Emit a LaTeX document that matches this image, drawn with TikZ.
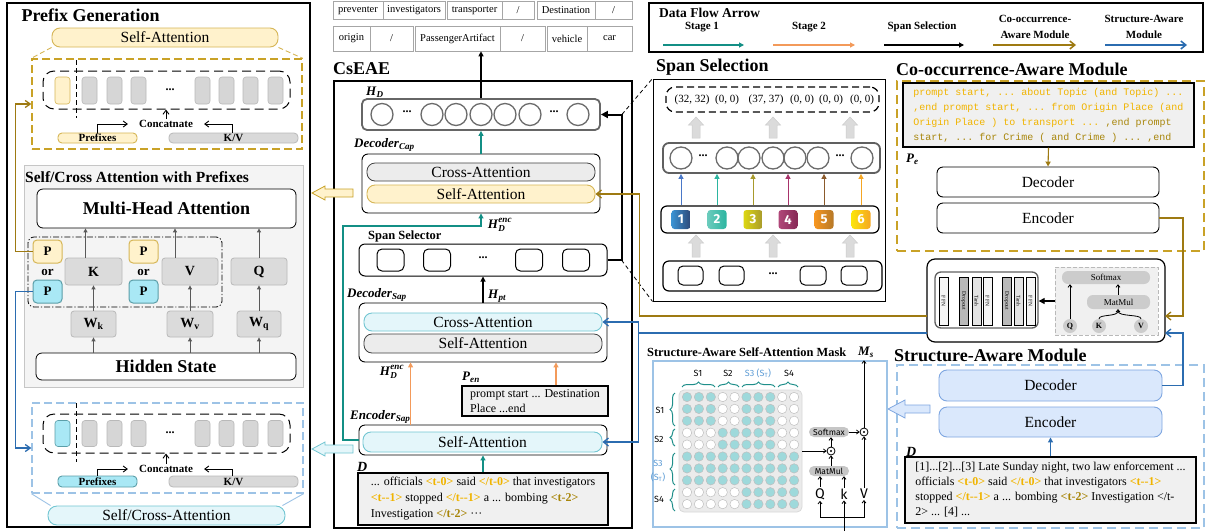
\documentclass[tikz,border=0pt]{standalone}
\usepackage{amsmath}
\usepackage{fontspec}
\setmainfont{Liberation Serif}
\setmonofont{Liberation Mono}
\newfontfamily\dinfont{Fira Sans}
\usetikzlibrary{arrows.meta,calc,decorations.pathreplacing}
\definecolor{cgold}{HTML}{9E7A12}
\definecolor{dgold}{HTML}{C9A227}
\definecolor{yfill}{HTML}{FFF2CC}
\definecolor{yline}{HTML}{D6B656}
\definecolor{cfill}{HTML}{E4F6FA}
\definecolor{cline}{HTML}{72C6D2}
\definecolor{tokc}{HTML}{A9E8F5}
\definecolor{tokg}{HTML}{D6D6D6}
\definecolor{cteal}{HTML}{138F85}
\definecolor{corange}{HTML}{F39A5A}
\definecolor{cblue}{HTML}{2B6CB0}
\definecolor{lblue}{HTML}{9DC3E6}
\definecolor{sfill}{HTML}{DAE8FC}
\definecolor{sline}{HTML}{7EA6E0}
\definecolor{tagy}{HTML}{F0B400}
\definecolor{tagd}{HTML}{A8860B}
\definecolor{mteal}{HTML}{9ED9DB}
\definecolor{brteal}{HTML}{1F8F8A}
\definecolor{sblue}{HTML}{5B9BD5}
\definecolor{ca1}{HTML}{4A78C8}
\definecolor{ca2}{HTML}{2BB5A0}
\definecolor{ca3}{HTML}{A89A2C}
\definecolor{ca4}{HTML}{A8336B}
\definecolor{ca5}{HTML}{8B5A2B}
\definecolor{ca6}{HTML}{F5A623}
\newcommand\myfs[1]{\fontsize{#1}{#1}\selectfont}
\newcommand\bi[1]{\textbf{\textit{#1}}}
\newcommand\tga[1]{\textcolor{tagy}{\textbf{#1}}}
\newcommand\tgb[1]{\textcolor{tagd}{\textbf{#1}}}
\newcommand\B[7]{\node[inner sep=0pt,minimum width={(#5)-(#3)},minimum height={(#6)-(#4)},#2] (#1) at ({((#3)+(#5))/2},{((#4)+(#6))/2}) {#7};}
\newcommand\blk[3]{\filldraw[fill=gray!28,draw=gray!40,line width=0.5pt] ({#1-4},{#3}) -- ({#1-4},{#2+8}) -- ({#1-7.5},{#2+8}) -- ({#1},{#2}) -- ({#1+7.5},{#2+8}) -- ({#1+4},{#2+8}) -- ({#1+4},{#3}) -- cycle;}
\begin{document}
\begin{tikzpicture}[x=1pt,y=-1pt,font=\myfs{12},
  tok/.style={draw=gray!55,fill=tokg,rounded corners=3pt,line width=0.6pt,minimum width=15pt,minimum height=27pt,inner sep=0pt},
  arr/.style={-{Triangle[length=5pt,width=5pt]},line width=1.1pt},
  barb/.style={-{Straight Barb[length=4pt,width=6pt]},line width=0.9pt},
  garr/.style={-{Triangle[length=4pt,width=4pt]},line width=1pt,draw=gray!70!black},
  mar/.style={-{Straight Barb[length=2.5pt,width=4pt]},line width=0.8pt},
  sa/.style={draw=yline,fill=yfill,rounded corners=8pt,line width=0.9pt,font=\myfs{15.5}},
  ca/.style={draw=cline,fill=cfill,rounded corners=8pt,line width=0.9pt,font=\myfs{15.5}},
  ga/.style={draw=black!75,fill=gray!15,rounded corners=8pt,line width=0.8pt,font=\myfs{15.5}},
  modb/.style={draw,fill=white,rounded corners=6pt,line width=0.9pt},
  txb/.style={draw,fill=gray!12,line width=1.4pt},
  py/.style={draw=yline,fill=yfill,rounded corners=4pt,line width=1pt,font=\bfseries\myfs{13}},
  pb/.style={draw=cline!80!black,fill=tokc,rounded corners=4pt,line width=1pt,font=\bfseries\myfs{13}},
  gbx/.style={draw=gray!55,fill=gray!28,rounded corners=3pt,line width=0.8pt,font=\bfseries\myfs{14}},
  tc/.style={draw=gray!70,line width=0.6pt,font=\myfs{10.5}},
  hcirc/.style={circle,draw=gray!85!black,line width=1.3pt,minimum size=22pt,inner sep=0pt},
  ssb/.style={draw,rounded corners=5pt,line width=1pt,minimum width=27pt,minimum height=22pt,inner sep=0pt},
  badge/.style={rounded corners=3pt,minimum size=19pt,inner sep=0pt,text=white,font=\dinfont\bfseries\myfs{13}},
  mlab/.style={font=\dinfont\myfs{9}},
  mpill/.style={fill=gray!45,rounded corners=5pt,inner sep=0pt,font=\dinfont\myfs{8.5}}
]
\useasboundingbox (0,0) rectangle (1207,531);
\fill[white] (0,0) rectangle (1207,531);

%================ PREFIX GENERATION =================
\B{pgframe}{draw,line width=1.3pt}{7}{3}{310}{527}{}
\node[anchor=west,font=\bfseries\myfs{18}] (pgtitle) at (18,15) {Prefix Generation};
\B{pgsa}{sa}{52}{28}{278}{47}{Self-Attention}
\B{pgbox1}{draw=dgold,dash pattern=on 8pt off 4pt,line width=1.4pt}{32}{59}{302}{149}{}
\draw[yline,line width=0.9pt,dash pattern=on 5pt off 3pt] (pgsa.south west) -- (pgbox1.north west) (pgsa.south east) -- (pgbox1.north east);
\B{seq1}{draw,dash pattern=on 9pt off 5pt,rounded corners=11pt,line width=1pt}{43}{71}{290}{109}{}
\draw[line width=1pt,dash pattern=on 5pt off 3pt] (76,60) -- (76,118);
\node[tok,fill=yfill,draw=yline] (t1a) at (62.5,90.5) {};
\foreach \x [count=\i] in {89.5,114.5,138.5,202.5,226.5,250.5,275.5} \node[tok] (t1\i) at (\x,90.5) {};
\node[font=\bfseries\myfs{12}] (d1) at (170,90) {...};
\node[font=\bfseries\myfs{11},inner sep=1pt] (cc1) at (166,124) {Concatnate};
\draw[barb] (cc1.north) -- (seq1.south -| cc1.north);
\B{pf1}{draw=yline,fill=yfill,rounded corners=4pt,line width=0.9pt,font=\bfseries\myfs{11}}{58}{133}{137}{143}{Prefixes}
\B{kv1}{draw=gray!55,fill=gray!30,rounded corners=4pt,line width=0.8pt,font=\bfseries\myfs{11}}{169}{133}{298}{143}{K/V}
\draw[barb] ($(pf1.north west)+(40,0)$) |- ([xshift=-10pt]cc1.west);
\draw[barb] ($(kv1.north west)+(64,0)$) |- ([xshift=10pt]cc1.east);

% Self/Cross attention with prefixes
\B{scp}{draw=gray!45,fill=gray!9,line width=1pt}{24}{165}{303}{387}{}
\node[anchor=west,font=\bfseries\myfs{15.5},inner sep=0pt] (sctitle) at (25,177) {Self/Cross Attention with Prefixes};
\B{mha}{draw,fill=white,rounded corners=6pt,line width=0.8pt,font=\bfseries\myfs{18}}{37}{189}{296}{228}{Multi-Head Attention}
\B{ddb}{draw,dash pattern=on 6pt off 2pt on 1.2pt off 2pt,rounded corners=6pt,line width=0.8pt}{28}{237}{222}{307}{}
\B{py1}{py}{33}{240}{62}{263}{P}
\B{pb1}{pb}{33}{280}{62}{303}{P}
\node[font=\bfseries\myfs{13}] (or1) at (47.5,272) {or};
\B{kk}{gbx}{65}{258}{122}{285}{K}
\B{py2}{py}{129}{240}{158}{263}{P}
\B{pb2}{pb}{129}{280}{158}{303}{P}
\node[font=\bfseries\myfs{13}] (or2) at (143.5,272) {or};
\B{vv}{gbx}{162}{258}{218}{285}{V}
\B{qq}{gbx}{231}{258}{287}{285}{Q}
\B{wk}{gbx}{71}{311}{116}{337}{W\textsubscript{k}}
\B{wv}{gbx}{167}{311}{213}{337}{W\textsubscript{v}}
\B{wq}{gbx}{237}{311}{281}{337}{W\textsubscript{q}}
\B{hid}{draw,fill=white,rounded corners=6pt,line width=0.8pt,font=\bfseries\myfs{18}}{36}{353}{296}{380}{Hidden State}
\draw[garr] (hid.north -| wk) -- (wk.south);
\draw[garr] (hid.north -| wv) -- (wv.south);
\draw[garr] (hid.north -| wq) -- (wq.south);
\draw[garr] (wk.north) -- (kk.south -| wk.north);
\draw[garr] (wv.north) -- (vv.south -| wv.north);
\draw[garr] (wq.north) -- (qq.south -| wq.north);
\coordinate (ka) at ($(kk.north)+(-8,0)$);
\coordinate (va) at ($(vv.north)+(-15,0)$);
\draw[garr] (ka) -- (ka |- mha.south);
\draw[garr] (va) -- (va |- mha.south);
\draw[garr] (qq.north) -- (qq.north |- mha.south);

% bottom prefix
\B{pgbox2}{draw=lblue,dash pattern=on 8pt off 4pt,line width=1.3pt}{32}{403}{303}{493}{}
\B{seq2}{draw,dash pattern=on 9pt off 5pt,rounded corners=11pt,line width=1pt}{43}{414}{290}{453}{}
\draw[line width=1pt,dash pattern=on 5pt off 3pt] (76,403) -- (76,462);
\node[tok,fill=tokc,draw=cline!80!black,minimum height=26pt] (t2a) at (62.5,433.5) {};
\foreach \x [count=\i] in {89.5,114.5,138.5,202.5,226.5,250.5,275.5} \node[tok,minimum height=26pt] (t2\i) at (\x,433.5) {};
\node[font=\bfseries\myfs{12}] (d2) at (170,433) {...};
\node[font=\bfseries\myfs{11},inner sep=1pt] (cc2) at (166,469) {Concatnate};
\draw[barb] (cc2.north) -- (seq2.south -| cc2.north);
\B{pf2}{draw=cline!80!black,fill=tokc,rounded corners=4pt,line width=0.9pt,font=\bfseries\myfs{11}}{58}{476}{137}{487}{Prefixes}
\B{kv2}{draw=gray!55,fill=gray!30,rounded corners=4pt,line width=0.8pt,font=\bfseries\myfs{11}}{169}{476}{298}{487}{K/V}
\draw[barb] ($(pf2.north west)+(40,0)$) |- ([xshift=-10pt]cc2.west);
\draw[barb] ($(kv2.north west)+(64,0)$) |- ([xshift=10pt]cc2.east);
\B{pgsca}{ca,rounded corners=9pt}{48}{506}{285}{525}{Self/Cross-Attention}
\draw[lblue,line width=0.9pt] (pgbox2.south west) -- ($(pgsca.north west)+(3,0)$) (pgbox2.south east) -- ($(pgsca.north east)+(-3,0)$);

\draw[cgold,line width=1.3pt,-{Straight Barb[length=5pt,width=7pt]}] (py1.west) -| ($(pgbox1.west)+(-16,0)$) -- (pgbox1.west);
\draw[cblue,line width=1.3pt,-{Straight Barb[length=5pt,width=7pt]}] (pb1.west) -| ($(pgbox2.west)+(-16,0)$) -- (pgbox2.west);

%================ TOP TABLE =================
\B{r1a}{tc}{333}{1.5}{383}{19}{preventer}
\B{r1b}{tc}{383}{1.5}{445}{19}{investigators}
\B{r1c}{tc}{447}{1.5}{502}{19}{transporter}
\B{r1d}{tc}{502}{1.5}{534}{19}{/}
\B{r1e}{tc}{537}{1.5}{595}{19}{Destination}
\B{r1f}{tc}{595}{1.5}{632}{19}{/}
\B{r2a}{tc}{333}{26}{370}{51}{origin}
\B{r2b}{tc}{370}{26}{413}{51}{/}
\B{r2c}{tc}{415}{26}{500}{51}{PassengerArtifact}
\B{r2d}{tc}{500}{26}{545}{51}{/}
\B{r2e}{tc}{547}{26}{587}{51}{vehicle}
\B{r2f}{tc}{587}{26}{632}{51}{car}

%================ CsEAE =================
\node[anchor=west,font=\bfseries\myfs{18},inner sep=0pt] (cstitle) at (333,69) {CsEAE};
\B{cs}{draw,line width=1.3pt}{334}{81}{632}{528}{}
\node[anchor=west,font=\myfs{13},inner sep=0pt] (hdlab) at (366,92) {$\bi{H}_{\bi{D}}$};
\B{hdb}{draw=gray!80!black,line width=1.8pt,rounded corners=5pt}{362}{99}{600}{130}{}
\foreach \x [count=\i] in {382,432,456,481,505,530,578} \node[hcirc] (hc\i) at (\x,114.5) {};
\node[font=\bfseries\myfs{12}] at (407,112) {...};
\node[font=\bfseries\myfs{12}] at (554,112) {...};
\draw[arr] (hdb.north -| hc4) -- (r2c.south -| hc4);

\node[anchor=west,font=\myfs{13},inner sep=0pt] (dclab) at (354,145) {$\bi{Decoder}_{\bi{Cap}}$};
\B{deccap}{modb}{362}{154}{600}{213}{}
\B{dcca}{ga}{367}{163}{595}{181}{Cross-Attention}
\B{dcsa}{sa}{367}{185}{595}{203}{Self-Attention}
\draw[arr,cteal] (deccap.north) -- (hdb.south);
\node[font=\myfs{13}] (hdenc1) at (500,225) {$\bi{H}_{\bi{D}}^{\bi{enc}}$};

\node[anchor=west,font=\bfseries\myfs{12.5},inner sep=0pt] (sslab) at (368,236) {Span Selector};
\B{spsel}{modb,line width=1pt}{359}{244}{607}{276}{}
\node[ssb] (ss1) at (390.5,260) {};
\node[ssb] (ss2) at (437,260) {};
\node[ssb] (ss3) at (529,260) {};
\node[ssb] (ss4) at (576,260) {};
\node[font=\bfseries\myfs{12}] at (483,258) {...};
\draw[line width=2pt,-{Triangle[length=7pt,width=7pt]}] (spsel.east) -| ($(hdb.east)+(21,0)$) -- (hdb.east);

\node[anchor=west,font=\myfs{13},inner sep=0pt] (hptlab) at (488,296) {$\bi{H}_{\bi{pt}}$};
\node[anchor=west,font=\myfs{13},inner sep=0pt] (dslab) at (347,295) {$\bi{Decoder}_{\bi{Sap}}$};
\B{decsap}{modb}{359}{303}{607}{362}{}
\B{dsca}{ca}{364}{313}{602}{331}{Cross-Attention}
\B{dssa}{ga}{364}{334}{602}{353}{Self-Attention}
\draw[arr] (decsap.north) -- (spsel.south);
\node[font=\myfs{13}] (hdenc2) at (392,372) {$\bi{H}_{\bi{D}}^{\bi{enc}}$};
\node[anchor=west,font=\myfs{13},inner sep=0pt] (penlab) at (462,377) {$\bi{P}_{\bi{en}}$};
\B{pen}{txb,align=left,font=\fontsize{12}{15}\selectfont}{462}{386}{608}{416}{prompt start ... Destination\\Place ...end}
\node[anchor=west,font=\myfs{13},inner sep=0pt] (eslab) at (350,417) {$\bi{Encoder}_{\bi{Sap}}$};
\B{encsap}{modb}{359}{425}{607}{455}{}
\B{essa}{ca}{363}{432}{602}{452}{Self-Attention}
\draw[arr,corange] ($(encsap.north west)+(52,0)$) -- ($(decsap.south west)+(52,0)$);
\draw[arr,corange] ($(pen.north)+(21,0)$) -- ($(decsap.south)+(73,0)$);
\node[anchor=west,font=\myfs{14},inner sep=0pt] (dlab) at (357,467) {\bi{D}};
\B{dbox}{txb,align=left,font=\fontsize{12}{16}\selectfont}{358}{473}{608}{525}{... officials \tga{<t-0>} said \tga{</t-0>} that investigators\\\tga{<t-{}-1>} stopped \tga{</t-{}-1>} a ... bombing \tgb{<t-2>}\\Investigation \tgb{</t-2>} ···}
\draw[arr,cteal] (dbox.north) -- (encsap.south);
\coordinate (tl1) at (343,226);
\draw[arr,cteal] (encsap.west) -| (tl1) -| (deccap.south);

% hollow arrows into prefix generation
\draw[draw=dgold,fill=yfill,line width=0.8pt] (353,189) -- (325,189) -- (325,186) -- (312,193) -- (325,200) -- (325,197) -- (353,197) -- cycle;
\draw[draw=cline,fill=cfill,line width=0.8pt] (353,445) -- (325,445) -- (325,442) -- (312,449) -- (325,456) -- (325,453) -- (353,453) -- cycle;

%================ SPAN SELECTION =================
\node[anchor=west,font=\bfseries\myfs{18},inner sep=0pt] (sptitle) at (656,67) {Span Selection};
\B{sspanel}{draw,line width=1pt}{653}{79}{885}{301}{}
\draw[dash pattern=on 4pt off 3pt,line width=0.8pt] ($(hdb.east)+(21,0)$) -- (sspanel.north west);
\draw[dash pattern=on 4pt off 3pt,line width=0.8pt] ($(spsel.east)+(14,0)$) -- (sspanel.south west);
\B{tupb}{draw,dash pattern=on 7pt off 4pt,rounded corners=9pt,line width=1.2pt}{666}{87}{879}{112}{}
\foreach \x/\t in {692/{(32, 32)},727/{(0, 0)},766/{(37, 37)},802/{(0, 0)},831/{(0, 0)},862/{(0, 0)}} \node[font=\myfs{11}] at (\x,100) {\t};
\blk{696}{117}{138}
\blk{773}{117}{138}
\blk{850}{117}{138}
\B{cbox}{draw=gray!75!black,line width=1.8pt,rounded corners=6pt}{663}{143}{880}{173}{}
\foreach \x [count=\i] in {681,727,749,773,795,818,862} \node[hcirc] (sc\i) at (\x,158) {};
\node[font=\bfseries\myfs{12}] at (703,156) {...};
\node[font=\bfseries\myfs{12}] at (840,156) {...};
\B{bbox}{draw,line width=1.2pt,rounded corners=6pt}{661}{206}{879}{233}{}
\node[badge,left color=ca1!80!cyan,right color=ca1!60!black] (b1) at (681,219.5) {1};
\node[badge,left color=ca2!70!white,right color=ca2] (b2) at (717,219.5) {2};
\node[badge,left color=yellow!60!ca3,right color=ca3] (b3) at (753,219.5) {3};
\node[badge,left color=ca4!90!white,right color=ca4!80!black] (b4) at (788,219.5) {4};
\node[badge,left color=ca6!90!red,right color=ca5!60!ca6] (b5) at (824,219.5) {5};
\node[badge,left color=yellow!70!ca6,right color=ca6] (b6) at (861,219.5) {6};
\foreach \i/\c in {1/ca1,2/ca2,3/ca3,4/ca4,5/ca5,6/ca6} \draw[arr,\c,line width=1pt] (bbox.north -| b\i) -- (cbox.south -| b\i);
\blk{696}{235}{257}
\blk{773}{235}{257}
\blk{850}{235}{257}
\B{inbox}{draw,line width=1.2pt,rounded corners=6pt}{663}{261}{882}{291}{}
\node[ssb,minimum width=25pt,minimum height=19pt] at (690.5,275.5) {};
\node[ssb,minimum width=25pt,minimum height=19pt] at (731.5,275.5) {};
\node[ssb,minimum width=26pt,minimum height=19pt] at (813,275.5) {};
\node[ssb,minimum width=26pt,minimum height=19pt] at (854,275.5) {};
\node[font=\bfseries\myfs{12}] at (773,274) {...};

%================ LEGEND =================
\B{legend}{draw,line width=1.3pt}{649}{3}{1203}{52}{}
\node[anchor=west,font=\bfseries\myfs{13.5},inner sep=0pt] at (659,13) {Data Flow Arrow};
\node[font=\bfseries\myfs{11}] at (702,27) {Stage 1};
\node[font=\bfseries\myfs{11}] at (809,27) {Stage 2};
\node[font=\bfseries\myfs{11}] at (922,27) {Span Selection};
\node[font=\bfseries\fontsize{11}{16}\selectfont,align=center] at (1035,27) {Co-occurrence-\\Aware Module};
\node[font=\bfseries\fontsize{11}{16}\selectfont,align=center] at (1144,27) {Structure-Aware\\Module};
\coordinate (la1) at (663,45); \coordinate (lb1) at (744,45);
\coordinate (la2) at (773,45); \coordinate (lb2) at (855,45);
\coordinate (la3) at (884,45); \coordinate (lb3) at (964,45);
\coordinate (la4) at (993,45); \coordinate (lb4) at (1076,45);
\coordinate (la5) at (1105,45); \coordinate (lb5) at (1187,45);
\draw[arr,cteal] (la1) -- (lb1);
\draw[arr,corange] (la2) -- (lb2);
\draw[arr] (la3) -- (lb3);
\draw[cgold,line width=1.5pt,-{Straight Barb[length=5pt,width=8pt]}] (la4) -- (lb4);
\draw[cblue,line width=1.5pt,-{Straight Barb[length=5pt,width=8pt]}] (la5) -- (lb5);

%================ CO-OCCURRENCE =================
\node[anchor=west,font=\bfseries\myfs{18},inner sep=0pt] (cotitle) at (896,69) {Co-occurrence-Aware Module};
\B{coocb}{draw=dgold,dash pattern=on 9pt off 5pt,line width=1.4pt}{897}{81}{1204}{251}{}
\B{pe}{txb,align=left,font=\ttfamily\fontsize{10}{15}\selectfont,text=tagy}{903}{83}{1194}{147}{prompt start, ... about Topic (and Topic) ...\\,end prompt start, ... from Origin Place (and\\Origin Place ) to transport ... \textcolor{tagd}{,end prompt}\\\textcolor{tagd}{start, ... for Crime ( and Crime ) ... ,end}}
\node[anchor=west,font=\myfs{13},inner sep=0pt] (pelab) at (906,159) {$\bi{P}_{\bi{e}}$};
\B{cdec}{modb,font=\myfs{15.5}}{937}{167}{1159}{197}{Decoder}
\B{cenc}{modb,font=\myfs{15.5}}{937}{203}{1159}{233}{Encoder}
\draw[arr,cgold] (pe.south) -- (cdec.north);

%================ MIDDLE MODULE =================
\B{mm}{draw,rounded corners=8pt,line width=1.2pt,fill=white}{927}{259}{1165}{342}{}
\B{mmin}{draw=gray!75!black,rounded corners=6pt,line width=1.3pt}{935}{272}{1038}{328}{}
\foreach \a/\f/\t in {939/8/FFN,959/55/Dropout,972/22/Tanh,983/8/FFN,1002/55/Dropout,1014/22/Tanh,1026/8/FFN}
  \node[draw,line width=0.6pt,fill=gray!\f,minimum width=9pt,minimum height=48pt,inner sep=0pt] at ({\a+4.5},301) {\rotatebox{-90}{\myfs{5.5}\t}};
\B{mmatt}{draw=gray!55,dash pattern=on 4pt off 2pt,fill=gray!12,line width=0.9pt}{1055}{267}{1158}{335}{}
\B{msm}{fill=gray!40,rounded corners=6pt,font=\myfs{9}}{1062}{271}{1150}{284}{Softmax}
\B{mmm}{fill=gray!40,rounded corners=6pt,font=\myfs{9}}{1087}{295}{1150}{309}{MatMul}
\node[circle,fill=gray!40,minimum size=14pt,inner sep=0pt,font=\bfseries\myfs{8}] (mq) at (1070,326) {Q};
\node[circle,fill=gray!40,minimum size=14pt,inner sep=0pt,font=\bfseries\myfs{8}] (mk) at (1099,326) {K};
\node[circle,fill=gray!40,minimum size=14pt,inner sep=0pt,font=\bfseries\myfs{8}] (mv) at (1141,326) {V};
\draw[mar] (mq.north) -- (mq.north |- msm.south);
\coordinate (mmj) at (1118,309);
\draw[line width=0.8pt] (mk.north) .. controls (1099,314) and (1118,317) .. (1118,311);
\draw[line width=0.8pt] (mv.north) .. controls (1141,314) and (1118,317) .. (1118,311);
\draw[mar] (1118,312) -- (mmj);
\draw[mar] (mmm.north -| mmj) -- (msm.south -| mmj);
\draw[line width=1.2pt,-{Triangle[length=6pt,width=6pt]}] (mmatt.west) -- (mmatt.west -| mmin.east);

%================ STRUCTURE-AWARE MODULE =================
\node[anchor=west,font=\bfseries\myfs{18},inner sep=0pt] (sttitle) at (894,355) {Structure-Aware Module};
\B{stb}{draw=lblue,dash pattern=on 9pt off 5pt,line width=1.4pt}{897}{365}{1204}{528}{}
\B{sdec}{draw=sline,fill=sfill,rounded corners=8pt,line width=0.9pt,font=\myfs{15.5}}{939}{370}{1162}{401}{Decoder}
\B{senc}{draw=sline,fill=sfill,rounded corners=8pt,line width=0.9pt,font=\myfs{15.5}}{939}{407}{1162}{437}{Encoder}
\node[anchor=west,font=\myfs{14},inner sep=0pt] (sdlab) at (906,452) {\bi{D}};
\B{sdb}{txb,align=left,font=\fontsize{12}{15}\selectfont}{905}{457}{1196}{523}{[1]...[2]...[3] Late Sunday night, two law enforcement ...\\officials \tga{<t-0>} said \tga{</t-0>} that investigators \tga{<t-{}-1>}\\stopped \tga{</t-{}-1>} a ... bombing \tgb{<t-2>} Investigation </t-\\2> ... [4] ...}
\draw[arr,cblue] (sdb.north) -- (senc.south);
\draw[draw=sline,fill=sfill,line width=0.8pt] (930,405) -- (905,405) -- (905,400) -- (888,409) -- (905,418) -- (905,413) -- (930,413) -- cycle;

% module routing
\coordinate (mmg) at (1165,316);
\coordinate (mmb) at (1165,333);
\coordinate (mmgl) at (927,316);
\coordinate (mmbl) at (927,333);
\draw[cgold,line width=1.3pt,-{Straight Barb[length=5pt,width=8pt]}] (cenc.east) -| ($(mmg)+(18,0)$) -- (mmg);
\draw[cblue,line width=1.3pt,-{Straight Barb[length=5pt,width=8pt]}] (sdec.east) -| ($(mmb)+(18,0)$) -- (mmb);
\draw[cgold,line width=1.3pt,-{Straight Barb[length=5pt,width=8pt]}] (mmgl) -| ($(dcsa.east)+(44,0)$) -- (dcsa.east);
\coordinate (bj) at ($(dsca.east)+(36,0)$);
\draw[cblue,line width=1.3pt,-{Straight Barb[length=5pt,width=8pt]}] (mmbl) -| (bj) -- (dsca.east);
\draw[cblue,line width=1.3pt,-{Straight Barb[length=5pt,width=8pt]}] (bj) |- (essa.east);

%================ MASK =================
\node[anchor=west,font=\bfseries\myfs{12.4},inner sep=0pt] (mktitle) at (647,352) {Structure-Aware Self-Attention Mask};
\node[font=\myfs{13}] (mslab) at (866,352) {$\bi{M}_{\bi{s}}$};
\B{mkb}{draw=lblue,line width=1.3pt}{653}{361}{887}{527}{}
\B{mat}{draw=gray!30,fill=gray!16,rounded corners=5pt,line width=0.8pt}{679}{390}{802}{512}{}
\foreach \r/\row in {1/{1,1,1,0,0,1,1,1,0,0},2/{1,1,1,0,0,1,1,1,0,0},3/{1,1,1,0,0,1,1,1,0,0},4/{0,0,0,1,1,1,1,1,0,0},5/{0,0,0,1,1,1,1,1,0,0},6/{1,1,1,1,1,1,1,1,1,1},7/{1,1,1,1,1,1,1,1,1,1},8/{1,1,1,1,1,1,1,1,1,1},9/{0,0,0,0,0,1,1,1,1,1},10/{0,0,0,0,0,1,1,1,1,1}}{
  \foreach \v [count=\c] in \row {
    \ifnum\v=1 \def\cc{mteal}\else\def\cc{white}\fi
    \filldraw[fill=\cc,draw=gray!50,line width=0.5pt] ({687+(\c-1)*11.9},{397+(\r-1)*11.9}) circle (4.7pt);
  }
}
\draw[brteal,line width=1pt,decorate,decoration={brace,amplitude=5pt}] (682,387) -- (715,387);
\draw[brteal,line width=1pt,decorate,decoration={brace,amplitude=5pt}] (718,387) -- (739,387);
\draw[brteal,line width=1pt,decorate,decoration={brace,amplitude=5pt}] (742,387) -- (775,387);
\draw[brteal,line width=1pt,decorate,decoration={brace,amplitude=5pt}] (778,387) -- (798,387);
\node[mlab] at (698,373) {S1};
\node[mlab] at (728,373) {S2};
\node[mlab,text=sblue] at (758,373) {S3 (S\textsubscript{T})};
\node[mlab] at (789,373) {S4};
\draw[brteal,line width=1pt,decorate,decoration={brace,amplitude=5pt}] (675,426) -- (675,393);
\draw[brteal,line width=1pt,decorate,decoration={brace,amplitude=5pt}] (675,446) -- (675,429);
\draw[brteal,line width=1pt,decorate,decoration={brace,amplitude=5pt}] (675,485) -- (675,453);
\draw[brteal,line width=1pt,decorate,decoration={brace,amplitude=5pt}] (675,511) -- (675,489);
\node[mlab] at (660,410) {S1};
\node[mlab] at (659,439) {S2};
\node[mlab,text=sblue] at (658,463) {S3};
\node[mlab,text=sblue] at (658,477) {(S\textsubscript{T})};
\node[mlab] at (659,499) {S4};
\B{msoft}{mpill}{809}{427}{849}{437}{Softmax}
\B{mmatm}{mpill}{809}{466}{849}{476}{MatMul}
\node[circle,draw,line width=0.8pt,minimum size=8pt,inner sep=0pt] (od1) at (831,451) {};
\fill (od1) circle (1.2pt);
\node[circle,draw,line width=0.8pt,minimum size=8pt,inner sep=0pt] (od2) at (864,432) {};
\fill (od2) circle (1.2pt);
\node[font=\dinfont\myfs{14},inner sep=1pt] (mQ) at (820,494) {Q};
\node[font=\dinfont\myfs{14},inner sep=1pt] (mK) at (844,494) {k};
\node[font=\dinfont\myfs{14},inner sep=1pt] (mV) at (864,494) {V};
\draw[mar] (mat.east |- od1) -- (od1.west);
\draw[mar] (mmatm.north -| od1) -- (od1.south);
\draw[mar] (od1.north) -- (msoft.south -| od1);
\draw[mar] (msoft.east) -- (od2.west);
\draw[mar] (mV.north) -- (od2.south);
\draw[mar] (od2.north) -- (od2.north |- mkb.north);
\draw[mar] (mQ.north) -- (mQ.north |- mmatm.south);
\draw[mar] (mK.north) -- (mK.north |- mmatm.south);
\coordinate (mj) at (844,517);
\coordinate (mjb) at (844,531);
\draw[line width=0.9pt] (mjb) -- (mj);
\draw[mar] (mj) -| (mQ.south);
\draw[mar] (mj) -| (mV.south);
\draw[mar] (mj) -- (mK.south);
\end{tikzpicture}
\end{document}
